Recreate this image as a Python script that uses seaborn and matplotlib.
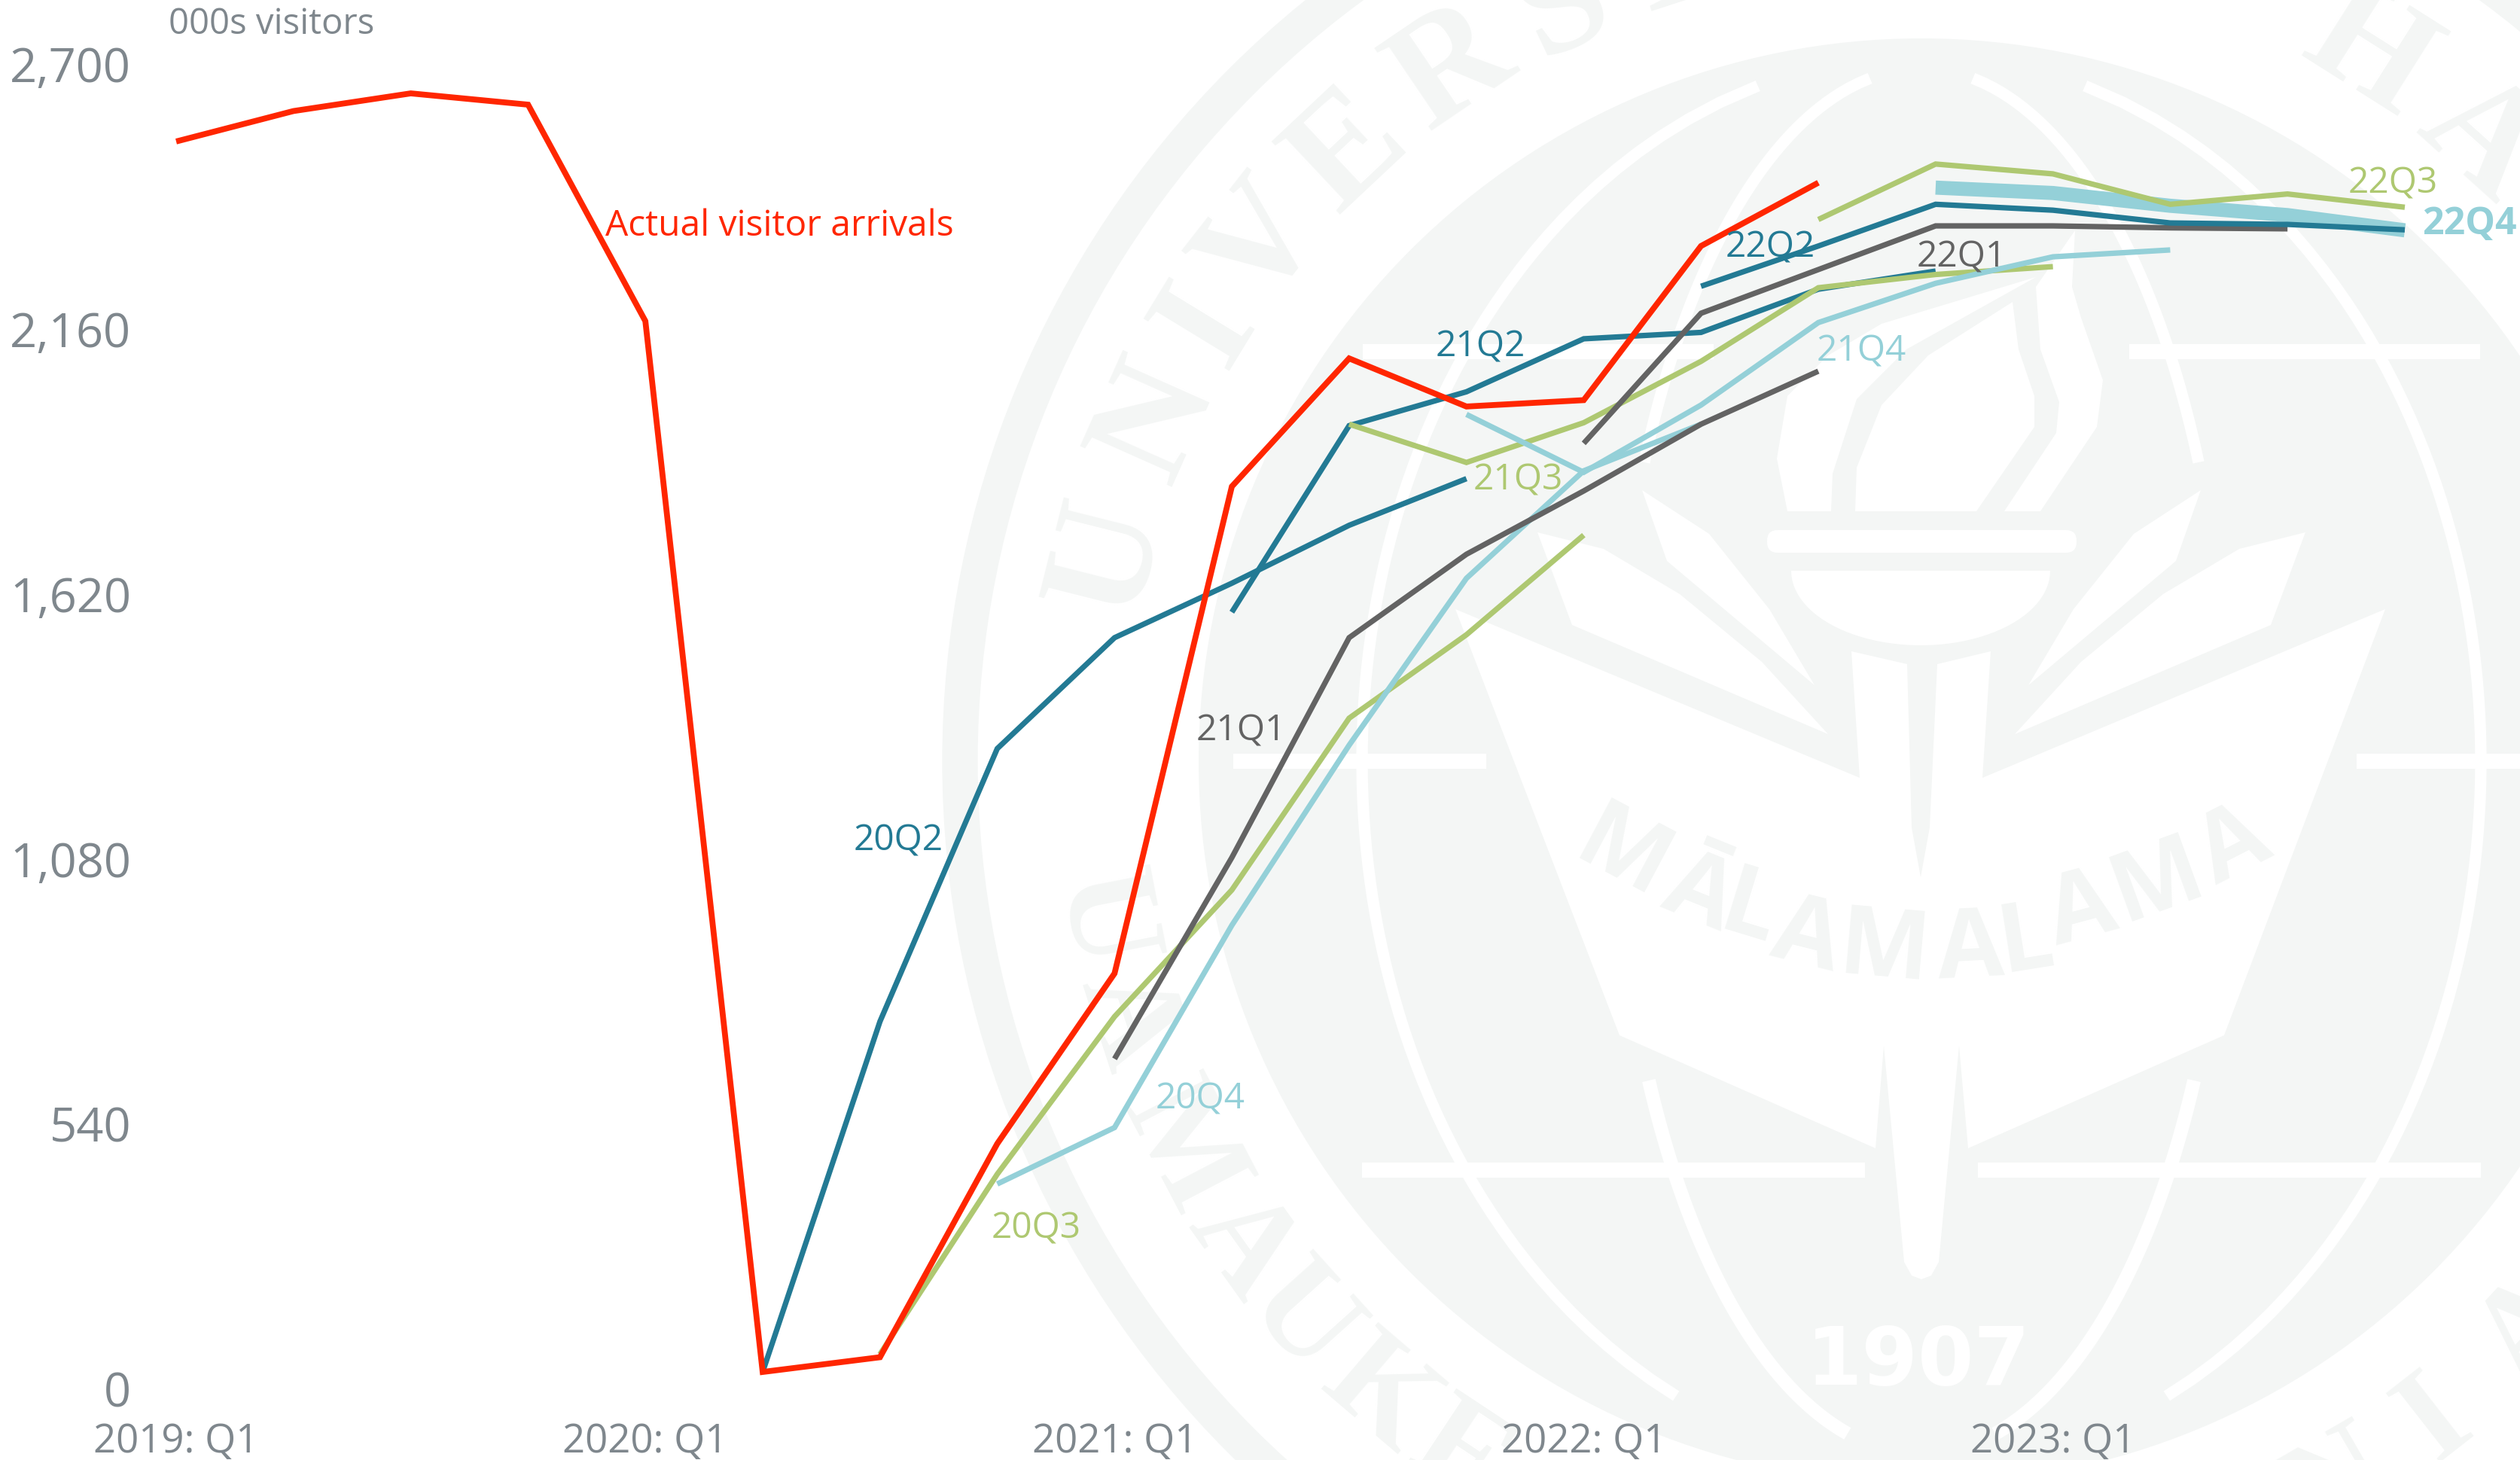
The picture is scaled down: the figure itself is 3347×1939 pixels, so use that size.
import numpy as np
import pandas as pd
import matplotlib
matplotlib.use("Agg")
import matplotlib.pyplot as plt
from matplotlib.patches import Circle, Polygon, FancyBboxPatch
from matplotlib.transforms import ScaledTranslation
import seaborn as sns

# quarters on the x axis, 2019 Q1 to 2023 Q4
quarters = [f"{y}: Q{q}" for y in range(2019, 2024) for q in range(1, 5)]
tick_quarters = ["2019: Q1", "2020: Q1", "2021: Q1", "2022: Q1", "2023: Q1"]
y_ticks = [0, 540, 1080, 1620, 2160, 2700]

# visitor arrivals, thousands
actual = [2546, 2608, 2644, 2621, 2180, 39, 69, 504, 851, 1843, 2104, 2006, 2019, 2333, 2462]
f20q2 = [39, 753, 1309, 1535, 1646, 1764, 1859]
f20q3 = [75, 442, 763, 1021, 1371, 1541, 1744]
f20q4 = [422, 537, 949, 1316, 1656, 1875, 1970]
f21q1 = [677, 1087, 1535, 1705, 1834, 1970, 2078]
f21q2 = [1587, 1967, 2036, 2144, 2157, 2245, 2282]
f21q3 = [1970, 1892, 1973, 2098, 2248, 2275, 2291]
f21q4 = [1990, 1872, 2009, 2177, 2257, 2311, 2325]
f22q1 = [1931, 2196, 2285, 2374, 2374, 2370, 2368]
f22q2 = [2251, 2333, 2418, 2406, 2380, 2377, 2366]
f22q3 = [2387, 2500, 2480, 2418, 2439, 2412]
f22q4 = [2452, 2441, 2415, 2396, 2365]

teal = "#237a94"
green = "#aec871"
light = "#94d0d8"
grey = "#636363"
red = "#ff2600"
axis_grey = "#7f878d"
seal = "#f4f6f5"

sns.set_theme(style="white")
plt.rcParams["font.family"] = ["Open Sans", "DejaVu Sans"]

W, H = 3347, 1940
fig = plt.figure(figsize=(W / 100, H / 100), dpi=100, facecolor="white")

# faint university seal behind the chart, drawn in pixel coordinates
bg = fig.add_axes([0, 0, 1, 1], zorder=0)
bg.set_xlim(0, W)
bg.set_ylim(H, 0)
bg.axis("off")
cx, cy = 2552, 1012
bg.add_patch(Circle((cx, cy), 1277, fill=False, ec=seal, lw=34))
bg.add_patch(Circle((cx, cy), 960, fc=seal, ec="none"))


def meridian(rx, ry, y0, y1, width):
    ys = np.linspace(y0, y1, 80)
    xs = rx * np.sqrt(np.clip(1 - ((ys - cy) / ry) ** 2, 0, 1))
    bg.plot(cx - xs, ys, color="white", lw=width, solid_capstyle="butt")
    bg.plot(cx + xs, ys, color="white", lw=width, solid_capstyle="butt")


meridian(743, 938, 115, 1855, 11)
meridian(408, 920, 105, 615, 11)
meridian(408, 920, 1436, 1905, 13)

for y, x0, x1 in [(468, 1810, 2276), (1012, 1638, 1974), (1555, 1809, 2477)]:
    bg.fill_between([x0, x1], y - 10, y + 10, color="white", lw=0)
    bg.fill_between([2 * cx - x1, 2 * cx - x0], y - 10, y + 10, color="white", lw=0)

book = [(1933, 810), (2470, 1034), (2459, 866), (2533, 883), (2539, 1100), (2551, 1166),
        (2563, 1100), (2573, 883), (2644, 866), (2633, 1034), (3168, 810), (2954, 1376),
        (2614, 1526), (2602, 1390), (2575, 1677), (2565, 1695), (2552, 1700), (2539, 1695),
        (2529, 1677), (2502, 1390), (2491, 1526), (2151, 1376)]
bg.add_patch(Polygon(book, fc="white", ec="none"))

for leaf in [[(2181, 652), (2214, 746), (2410, 911), (2350, 810), (2270, 710)],
             [(2042, 708), (2088, 831), (2428, 976), (2340, 880), (2231, 790), (2130, 730)]]:
    bg.add_patch(Polygon(leaf, fc="white", ec="none"))
    bg.add_patch(Polygon([(2 * cx - x, y) for x, y in leaf], fc="white", ec="none"))

flames = [[(2464, 680), (2625, 680), (2702, 568), (2702, 527), (2681, 465), (2673, 402), (2561, 473), (2499, 539), (2466, 622)],
          [(2374, 680), (2360, 610), (2374, 527), (2428, 473), (2499, 431), (2704, 369), (2532, 465), (2466, 531), (2434, 630), (2432, 680)],
          [(2662, 680), (2731, 576), (2735, 535), (2710, 465), (2704, 382), (2756, 307), (2752, 382), (2764, 423), (2793, 506), (2785, 568), (2710, 680)]]
for flame in flames:
    bg.add_patch(Polygon(flame, fc="white", ec="none"))
bg.add_patch(FancyBboxPatch((2347, 705), 411, 30, boxstyle="round,pad=0,rounding_size=14", fc="white", ec="none"))
t = np.linspace(0, np.pi, 50)
bg.add_patch(Polygon(np.column_stack([2551 + 172 * np.cos(t), 759 + 99 * np.sin(t)]), fc="white", ec="none"))

# lettering around the ring
ring_top = list(zip("UNIVERSIHAW", [165.9, 156, 148.6, 141.9, 133.2, 124.1, 115.4, 108, 57.7, 48, 38]))
ring_bottom = list(zip("UAMAUKE", [191, 198, 207.6, 215.5, 222, 229.5, 236.5])) + [("N", 300), ("I", 308), ("A", 317)]
for ch, ang in ring_top:
    a = np.deg2rad(ang)
    bg.text(cx + 1110 * np.cos(a), cy - 1110 * np.sin(a), ch, color=seal, fontsize=146, fontweight="bold",
            family="Liberation Serif", ha="center", va="center", rotation=ang - 90, rotation_mode="anchor")
for ch, ang in ring_bottom:
    a = np.deg2rad(ang)
    bg.text(cx + 1110 * np.cos(a), cy - 1110 * np.sin(a), ch, color=seal, fontsize=128, fontweight="bold",
            family="Liberation Serif", ha="center", va="center", rotation=ang - 270, rotation_mode="anchor")

motto = [("M", 2154, 1138, -28), ("Ā", 2256, 1189, -22), ("L", 2323, 1212, -17), ("A", 2400, 1247, -14), ("M", 2502, 1264, -5),
         ("A", 2617, 1264, 3), ("L", 2691, 1253, 9), ("A", 2765, 1212, 15), ("M", 2866, 1172, 20), ("A", 2968, 1126, 27)]
for ch, x, y, rot in motto:
    bg.text(x, y, ch, color=seal, fontsize=92, fontweight="bold", ha="center", va="center",
            rotation=rot, rotation_mode="anchor")
bg.text(2548, 1810, "1907", color="white", fontsize=77, fontweight="bold", family="DejaVu Sans", ha="center", va="center")

# the chart itself
ax = fig.add_axes([234 / W, 1 - 1848.5 / H, (3194 - 234) / W, (1848.5 - 88.5) / H], zorder=1)
ax.patch.set_alpha(0)

series = [
    ("22Q4", 15, f22q4, light, 13.5),
    ("20Q2", 5, f20q2, teal, 5.2),
    ("20Q3", 6, f20q3, green, 5.2),
    ("20Q4", 7, f20q4, light, 5.2),
    ("21Q1", 8, f21q1, grey, 5.2),
    ("21Q2", 9, f21q2, teal, 5.2),
    ("21Q3", 10, f21q3, green, 5.2),
    ("21Q4", 11, f21q4, light, 5.2),
    ("22Q1", 12, f22q1, grey, 5.2),
    ("22Q2", 13, f22q2, teal, 5.2),
    ("22Q3", 14, f22q3, green, 5.2),
    ("Actual", 0, actual, red, 5.6),
]
for name, start, values, colour, width in series:
    df = pd.DataFrame({"quarter": quarters[start:start + len(values)], "visitors": values})
    df["pos"] = [quarters.index(q) for q in df["quarter"]]
    sns.lineplot(data=df, x="pos", y="visitors", color=colour, linewidth=width, ax=ax, errorbar=None,
                 solid_capstyle="butt", solid_joinstyle="miter", clip_on=False)

ax.set_xlim(0, len(quarters) - 1)
ax.set_ylim(0, 2700)
ax.set_xlabel("")
ax.set_ylabel("")
ax.set_xticks([quarters.index(q) for q in tick_quarters], tick_quarters)
ax.set_yticks(y_ticks, [f"{v:,}" for v in y_ticks])
ax.tick_params(axis="x", length=0, pad=29, labelsize=38, labelcolor=axis_grey)
ax.tick_params(axis="y", length=0, pad=43, labelsize=45.5, labelcolor=axis_grey)
sns.despine(ax=ax, left=True, bottom=True)
ax.grid(False)
for lbl in ax.get_yticklabels():
    lbl.set_transform(lbl.get_transform() + ScaledTranslation(0, 3.5 / 100, fig.dpi_scale_trans))

# series labels, placed in data coordinates
labels = [
    ("20Q2", 6.16, 1122, teal), ("20Q3", 7.33, 332, green), ("20Q4", 8.73, 597, light), ("21Q1", 9.08, 1347, grey),
    ("21Q2", 11.12, 2129, teal), ("21Q3", 11.44, 1857, green), ("21Q4", 14.37, 2119, light), ("22Q1", 15.22, 2312, grey),
    ("22Q2", 13.59, 2332, teal), ("22Q3", 18.9, 2462, green),
]
for text, x, y, colour in labels:
    ax.text(x, y, text, color=colour, fontsize=34.5, ha="center", va="center")
ax.text(19.15, 2378, "22Q4", color=light, fontsize=36, fontweight="bold", ha="left", va="center")
ax.text(3.66, 2375, "Actual visitor arrivals", color=red, fontsize=34.5, ha="left", va="center")
fig.text(224 / W, 1 - 32 / H, "000s visitors", color=axis_grey, fontsize=34, ha="left", va="center")

fig.savefig("out.png", dpi=100)
